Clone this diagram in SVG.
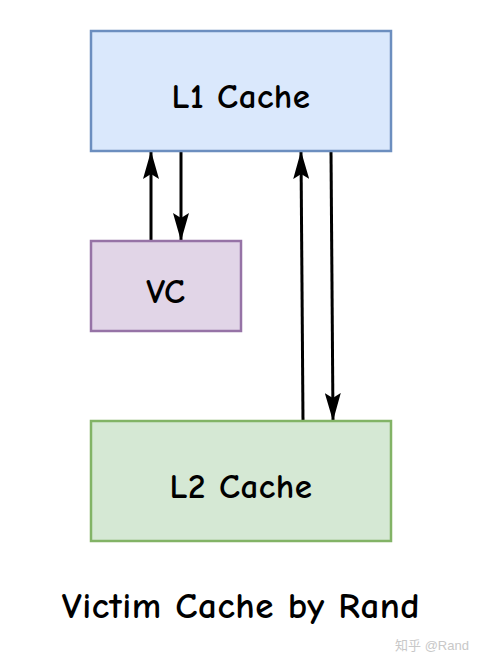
<svg xmlns="http://www.w3.org/2000/svg" width="486" height="666" viewBox="0 0 486 666">
<style>
.lbl{font-family:"Comic Neue","DejaVu Sans","Noto Sans",sans-serif;fill:#000;text-anchor:middle;font-weight:bold;}
.edge{stroke:#000;stroke-width:3;fill:none;}
</style>
<defs>
<marker id="arr" viewBox="0 0 28 16" refX="27" refY="8" markerWidth="28" markerHeight="16" markerUnits="userSpaceOnUse" orient="auto">
<path d="M0,0 L28,8 L0,16 L5,8 Z" fill="#000"/>
</marker>
</defs>
<rect width="486" height="666" fill="#fff"/>
<g id="connectors">
<line class="edge" x1="151" y1="241" x2="151" y2="152" marker-end="url(#arr)"/>
<line class="edge" x1="181" y1="151" x2="181" y2="240" marker-end="url(#arr)"/>
<line class="edge" x1="303" y1="421" x2="301" y2="152" marker-end="url(#arr)"/>
<line class="edge" x1="331" y1="151" x2="333" y2="420" marker-end="url(#arr)"/>
</g>
<g id="l1">
<rect x="91" y="31" width="300" height="120" fill="#dae8fc" stroke="#6c8ebf" stroke-width="2.5"/>
<text class="lbl" x="241" y="108" font-size="35" letter-spacing="0.5">L1 Cache</text>
</g>
<g id="vc">
<rect x="91" y="241" width="150" height="90" fill="#e1d5e7" stroke="#9673a6" stroke-width="2.5"/>
<text class="lbl" x="166" y="303" font-size="35" letter-spacing="0.5">VC</text>
</g>
<g id="l2">
<rect x="91" y="421" width="300" height="120" fill="#d5e8d4" stroke="#82b366" stroke-width="2.5"/>
<text class="lbl" x="241" y="498" font-size="35" letter-spacing="0.5">L2 Cache</text>
</g>
<g id="caption">
<text class="lbl" x="241" y="618" font-size="37" letter-spacing="0.5">Victim Cache by Rand</text>
</g>
<text x="432" y="650" font-family="'Liberation Sans','Noto Sans CJK SC',sans-serif" font-size="13" fill="#c8c8c8" text-anchor="middle">知乎 @Rand</text>
</svg>
